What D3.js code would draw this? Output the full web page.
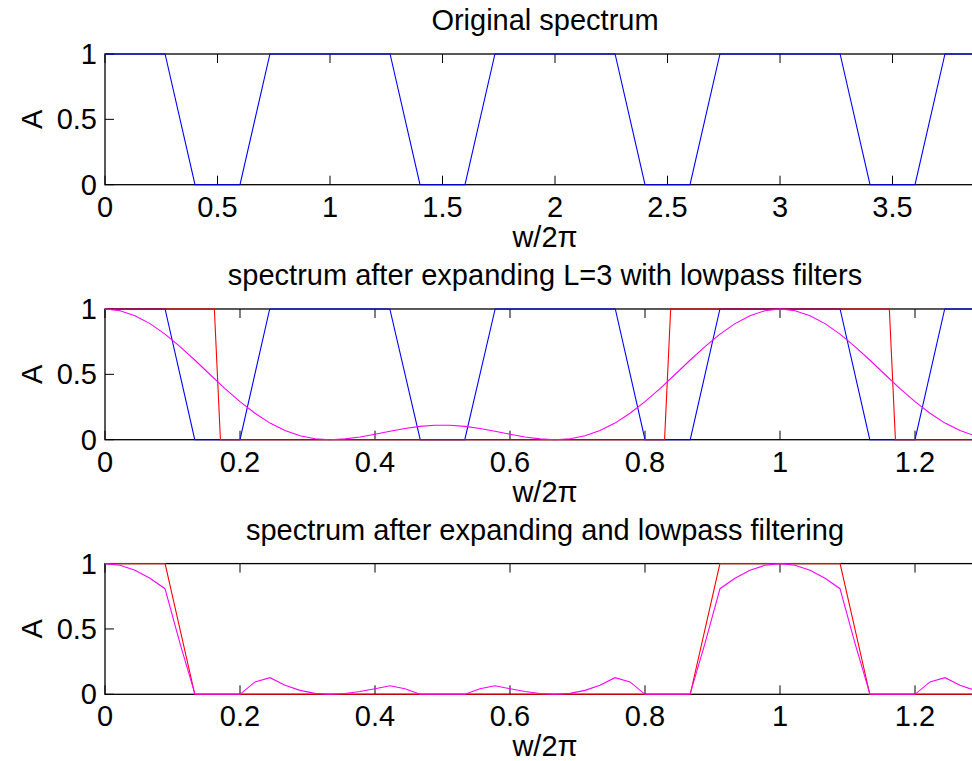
<!DOCTYPE html>
<html>
<head>
<meta charset="utf-8">
<script src="https://cdn.jsdelivr.net/npm/d3@7"></script>
<style>
  html, body { margin: 0; padding: 0; background: #ffffff; overflow: hidden; }
  svg { display: block; }
  text { font-family: "Liberation Sans", Arial, Helvetica, sans-serif; fill: #000; }
</style>
</head>
<body>
<div id="chart"></div>
<script>
// ---------------- data ----------------
const titles = [
  "Original spectrum",
  "spectrum after expanding L=3 with lowpass filters",
  "spectrum after expanding and lowpass filtering"
];
const xLabel = "w/2\u03c0";
const yLabel = "A";

const xTicks1 = [0, 0.5, 1, 1.5, 2, 2.5, 3, 3.5];
const xTicks23 = [0, 0.2, 0.4, 0.6, 0.8, 1, 1.2];
const yTicks = [0, 0.5, 1];
const xMax1 = 3.911;
const xMax23 = 1.3037;

// panel 1: original spectrum (blue)
const origFreq = [0, 0.267, 0.4, 0.6, 0.733, 1.267, 1.4, 1.6, 1.733, 2.267, 2.4, 2.6, 2.733, 3.267, 3.4, 3.6, 3.733, 3.911];
const origAmp  = [1, 1, 0, 0, 1, 1, 0, 0, 1, 1, 0, 0, 1, 1, 0, 0, 1, 1];

// panel 2: expanded spectrum (blue)
const expFreq = [0, 0.089, 0.133, 0.2, 0.244, 0.422, 0.467, 0.533, 0.578, 0.756, 0.8, 0.867, 0.911, 1.089, 1.133, 1.2, 1.244, 1.3037];
const expAmp  = [1, 1, 0, 0, 1, 1, 0, 0, 1, 1, 0, 0, 1, 1, 0, 0, 1, 1];

// panel 2: ideal lowpass filter (red)
const idealFreq = [0, 0.162, 0.171, 0.829, 0.838, 1.162, 1.171, 1.3037];
const idealAmp  = [1, 1, 0, 0, 1, 1, 0, 0];

// panel 2: simple lowpass filter response (magenta), sampled every 1/45
const lpAmp = [
  1, 0.987, 0.949, 0.888, 0.808, 0.712, 0.608, 0.499, 0.391, 0.291, 0.202, 0.127, 0.070, 0.030, 0.007, 0,
  0.006, 0.021, 0.042, 0.065, 0.086, 0.102, 0.110, 0.110, 0.102, 0.086, 0.065, 0.042, 0.021, 0.006, 0,
  0.007, 0.030, 0.070, 0.127, 0.202, 0.291, 0.391, 0.499, 0.608, 0.712, 0.808, 0.888, 0.949, 0.987, 1,
  0.987, 0.949, 0.888, 0.808, 0.712, 0.608, 0.499, 0.391, 0.291, 0.202, 0.127, 0.070, 0.030, 0.007, 0
];

// panel 3: ideal filtered spectrum (red)
const filtIdealFreq = [0, 0.089, 0.133, 0.867, 0.911, 1.089, 1.133, 1.3037];
const filtIdealAmp  = [1, 1, 0, 0, 1, 1, 0, 0];

// panel 3: lowpass-filtered spectrum (magenta), sampled every 1/45
const filtLpAmp = [
  1, 0.987, 0.949, 0.888, 0.808, 0.39, 0, 0, 0, 0, 0.095, 0.127, 0.070, 0.030, 0.007, 0,
  0.006, 0.021, 0.042, 0.065, 0.043, 0, 0, 0, 0, 0.043, 0.065, 0.042, 0.021, 0.006, 0,
  0.007, 0.030, 0.070, 0.127, 0.095, 0, 0, 0, 0, 0.39, 0.808, 0.888, 0.949, 0.987, 1,
  0.987, 0.949, 0.888, 0.808, 0.39, 0, 0, 0, 0, 0.095, 0.127, 0.070, 0.030, 0.007, 0
];
const sampleFreq = d3.range(lpAmp.length).map(k => k / 45);

// ---------------- layout ----------------
const W = 972, H = 761;
const left = 105, plotW = 880;
const tops = [54, 309, 563.6];
const plotH = 130.7;
const fontSize = 29;
const tickLen = 9;

const svg = d3.select("#chart").append("svg")
  .attr("width", W).attr("height", H);

const panels = [
  { xMax: xMax1, xTicks: xTicks1, series: [
      { f: origFreq, a: origAmp, color: "#0000ff" } ] },
  { xMax: xMax23, xTicks: xTicks23, series: [
      { f: expFreq, a: expAmp, color: "#0000ff" },
      { f: idealFreq, a: idealAmp, color: "#ff0000" },
      { f: sampleFreq, a: lpAmp, color: "#ff00ff" } ] },
  { xMax: xMax23, xTicks: xTicks23, series: [
      { f: filtIdealFreq, a: filtIdealAmp, color: "#ff0000" },
      { f: sampleFreq, a: filtLpAmp, color: "#ff00ff" } ] }
];

panels.forEach((p, i) => {
  const top = tops[i];
  const x = d3.scaleLinear().domain([0, p.xMax]).range([left, left + plotW]);
  const y = d3.scaleLinear().domain([0, 1]).range([top + plotH, top]);
  const g = svg.append("g");
  const clipId = "clip" + i;
  svg.append("defs").append("clipPath").attr("id", clipId)
    .append("rect").attr("x", left).attr("y", top - 3)
    .attr("width", plotW).attr("height", plotH + 6);

  // axes box
  const axisColor = "#000";
  g.append("rect")
    .attr("x", left).attr("y", top)
    .attr("width", plotW).attr("height", plotH)
    .attr("fill", "none").attr("stroke", axisColor).attr("stroke-width", 1.3);

  // x ticks (bottom & top, inward)
  p.xTicks.forEach(t => {
    const xp = x(t);
    g.append("line").attr("x1", xp).attr("x2", xp)
      .attr("y1", top + plotH).attr("y2", top + plotH - tickLen)
      .attr("stroke", axisColor).attr("stroke-width", 1);
    g.append("line").attr("x1", xp).attr("x2", xp)
      .attr("y1", top).attr("y2", top + tickLen)
      .attr("stroke", axisColor).attr("stroke-width", 1);
    g.append("text")
      .attr("x", xp).attr("y", top + plotH + 32)
      .attr("text-anchor", "middle")
      .style("font-size", fontSize + "px")
      .text(d3.format("~g")(t));
  });

  // y ticks (left & right, inward)
  yTicks.forEach(t => {
    const yp = y(t);
    g.append("line").attr("x1", left).attr("x2", left + tickLen)
      .attr("y1", yp).attr("y2", yp)
      .attr("stroke", axisColor).attr("stroke-width", 1);
    g.append("line").attr("x1", left + plotW).attr("x2", left + plotW - tickLen)
      .attr("y1", yp).attr("y2", yp)
      .attr("stroke", axisColor).attr("stroke-width", 1);
    g.append("text")
      .attr("x", left - 8).attr("y", yp + 10)
      .attr("text-anchor", "end")
      .style("font-size", fontSize + "px")
      .text(d3.format("~g")(t));
  });

  // data lines
  const line = d3.line().x(d => x(d[0])).y(d => y(d[1]));
  const dg = g.append("g").attr("clip-path", `url(#${clipId})`);
  p.series.forEach(s => {
    const pts = s.f.map((f, k) => [f, s.a[k]]);
    dg.append("path")
      .attr("d", line(pts))
      .attr("fill", "none")
      .attr("stroke", s.color)
      .attr("stroke-width", 1.1);
  });

  // title
  g.append("text")
    .attr("x", left + plotW / 2).attr("y", top - 24)
    .attr("text-anchor", "middle")
    .style("font-size", fontSize + "px")
    .text(titles[i]);

  // x label
  g.append("text")
    .attr("x", left + plotW / 2).attr("y", top + plotH + 62)
    .attr("text-anchor", "middle")
    .style("font-size", fontSize + "px")
    .text(xLabel);

  // y label
  g.append("text")
    .attr("transform", `translate(42,${top + plotH / 2}) rotate(-90)`)
    .attr("text-anchor", "middle")
    .style("font-size", fontSize + "px")
    .text(yLabel);
});
</script>
</body>
</html>
